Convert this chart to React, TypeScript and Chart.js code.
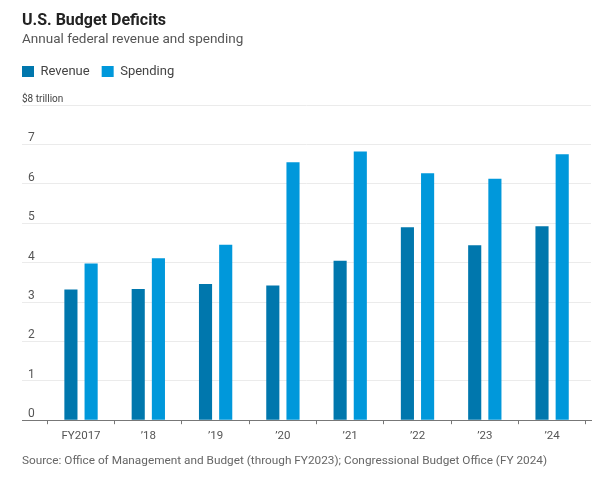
import { useEffect, useRef } from 'react';
import { Chart, registerables } from 'chart.js';

Chart.register(...registerables);

// ---- data ----
const yearLabels = ['FY2017', '\u201918', '\u201919', '\u201920', '\u201921', '\u201922', '\u201923', '\u201924'];
const revenue = [3.32, 3.33, 3.46, 3.42, 4.05, 4.9, 4.44, 4.92];
const spending = [3.98, 4.11, 4.45, 6.55, 6.82, 6.27, 6.13, 6.75];
const yTickValues = [0, 1, 2, 3, 4, 5, 6, 7, 8];
const yTopLabel = '$8 trillion';
const seriesNames = ['Revenue', 'Spending'];

const REV_COLOR = '#0077ad';
const SPD_COLOR = '#0098db';
const FONT = 'Roboto';
const LEGEND_GAP = 17;

const legendGapPlugin = {
  id: 'legendGap',
  afterInit(chart: any) {
    const lg = chart.legend;
    if (!lg || lg._gapPatched) return;
    const fit = lg.fit.bind(lg);
    lg.fit = () => {
      fit();
      lg.height += LEGEND_GAP;
    };
    lg._gapPatched = true;
  },
};

export default function App() {
  const canvasRef = useRef<HTMLCanvasElement | null>(null);

  useEffect(() => {
    const canvas = canvasRef.current;
    if (!canvas) return;
    const chart = new Chart(canvas, {
      type: 'bar',
      plugins: [legendGapPlugin],
      data: {
        datasets: [
          {
            label: seriesNames[0],
            data: revenue.map((v, i) => ({ x: i, y: v })),
            backgroundColor: REV_COLOR,
            categoryPercentage: 0.6,
            barPercentage: 0.65,
          },
          {
            label: seriesNames[1],
            data: spending.map((v, i) => ({ x: i, y: v })),
            backgroundColor: SPD_COLOR,
            categoryPercentage: 0.6,
            barPercentage: 0.65,
          },
        ],
      },
      options: {
        animation: false,
        responsive: false,
        devicePixelRatio: 1,
        layout: { padding: { left: 10, right: 9, top: 53, bottom: 33 } },
        plugins: {
          tooltip: { enabled: false },
          legend: {
            position: 'top',
            align: 'start',
            labels: {
              boxWidth: 12,
              boxHeight: 11,
              padding: 12,
              color: '#444',
              font: { family: FONT, size: 13 },
            },
          },
        },
        scales: {
          x: {
            type: 'linear',
            min: -0.877,
            max: 7.578,
            offset: false,
            afterBuildTicks: (axis: any) => {
              axis.ticks = yearLabels.map((_, i) => ({ value: i }));
            },
            ticks: {
              autoSkip: false,
              maxRotation: 0,
              padding: 5,
              color: '#555',
              font: { family: FONT, size: 11.5 },
              callback: (v: any) => yearLabels[Number(v)] ?? '',
            },
            grid: {
              drawOnChartArea: false,
              drawTicks: true,
              tickLength: 4,
              color: '#777',
            },
            border: { display: true, color: '#777', width: 1 },
          },
          y: {
            type: 'linear',
            position: 'left',
            weight: 1,
            min: 0,
            max: 8,
            afterBuildTicks: (axis: any) => {
              axis.ticks = yTickValues.map((v) => ({ value: v }));
            },
            ticks: {
              mirror: true,
              padding: 6,
              labelOffset: -6,
              color: '#555',
              font: { family: FONT, size: 12 },
              callback: (v: any) => (Number(v) === 8 ? '' : String(v)),
            },
            grid: { color: '#ebebeb', lineWidth: 1, drawTicks: false },
            border: { display: false },
          },
          y2: {
            type: 'linear',
            position: 'left',
            weight: 0,
            min: 0,
            max: 8,
            afterBuildTicks: (axis: any) => {
              axis.ticks = [{ value: 8 }];
            },
            ticks: {
              mirror: true,
              padding: 0,
              labelOffset: -6,
              color: '#444',
              font: { family: FONT, size: 10 },
              callback: () => yTopLabel,
            },
            grid: { display: false, drawTicks: false },
            border: { display: false },
          },
        },
      },
    });
    return () => chart.destroy();
  }, []);

  return (
    <div
      style={{
        position: 'absolute',
        left: 0,
        top: 0,
        width: 600,
        height: 481,
        overflow: 'hidden',
        background: '#fff',
        fontFamily: FONT,
      }}
    >
      <canvas ref={canvasRef} width={600} height={481} style={{ position: 'absolute', left: 0, top: 0 }} />
      <div
        style={{
          position: 'absolute',
          left: 22,
          top: 12,
          fontSize: 16,
          lineHeight: 1,
          fontWeight: 700,
          fontFamily: '"Liberation Sans Narrow", "Arial Narrow", Roboto',
          color: '#222',
          whiteSpace: 'nowrap',
        }}
      >
        U.S. Budget Deficits
      </div>
      <div
        style={{
          position: 'absolute',
          left: 22,
          top: 32,
          fontSize: 13.5,
          lineHeight: 1,
          color: '#555',
          whiteSpace: 'nowrap',
        }}
      >
        Annual federal revenue and spending
      </div>
      <div
        style={{
          position: 'absolute',
          left: 22,
          top: 455,
          fontSize: 11.8,
          lineHeight: 1,
          color: '#666',
          whiteSpace: 'nowrap',
        }}
      >
        Source: Office of Management and Budget (through FY2023); Congressional Budget Office (FY 2024)
      </div>
    </div>
  );
}
